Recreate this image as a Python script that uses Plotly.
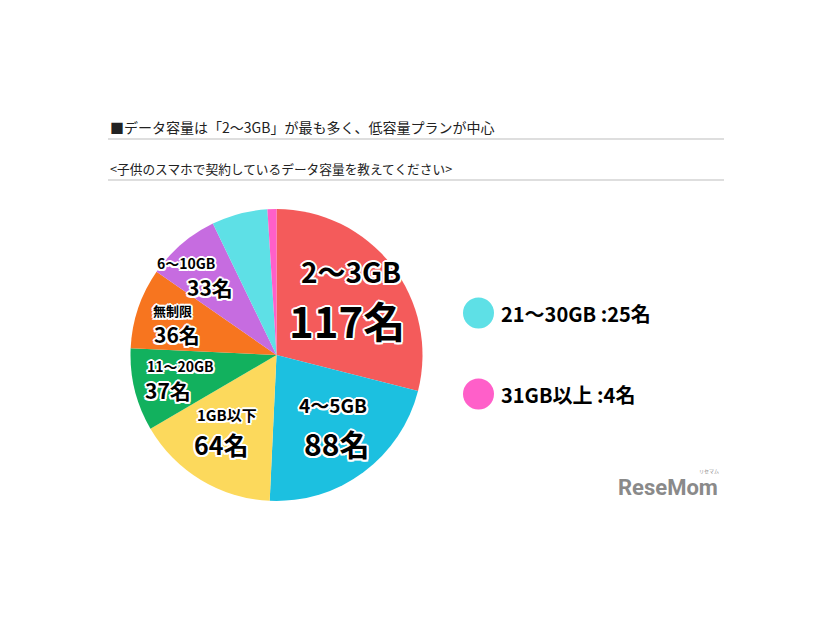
import plotly.graph_objects as go

labels = ["2〜3GB", "4〜5GB", "1GB以下", "11〜20GB", "無制限", "6〜10GB", "21〜30GB", "31GB以上"]
values = [117, 88, 64, 37, 36, 33, 25, 4]
colors = ["#F45B5B", "#1CC0E0", "#FCD95C", "#12B15E", "#F7751F", "#C66CE0", "#5EE0E6", "#FF5FC9"]

title_text = "■データ容量は「2〜3GB」が最も多く、低容量プランが中心"
subtitle_text = "<子供のスマホで契約しているデータ容量を教えてください>"

OFF = 8  # default page body margin
W, H = 826 - 2 * OFF, 620 - 2 * OFF
FONT = "Noto Sans CJK JP"

def px(x):
    return (x - OFF) / W

def py(y):
    return 1 - (y - OFF) / H

fig = go.Figure()
fig.add_trace(go.Pie(
    labels=labels, values=values, sort=False, direction="clockwise", rotation=0,
    marker=dict(colors=colors, line=dict(width=0)),
    textinfo="none", hoverinfo="none", showlegend=False,
    domain=dict(x=[px(130), px(423)], y=[py(501), py(209)]),
))

shadow = "2px 0 0 #fff, -2px 0 0 #fff, 0 2px 0 #fff, 0 -2px 0 #fff, 1.5px 1.5px 0 #fff, -1.5px -1.5px 0 #fff, 1.5px -1.5px 0 #fff, -1.5px 1.5px 0 #fff"

# (text, x, y, size) for pie labels
pie_labels = [
    (labels[0], 351, 271, 28), (f"{values[0]}名", 347, 319, 42),
    (labels[1], 333, 404, 19), (f"{values[1]}名", 336, 443, 30),
    (labels[2], 227, 414, 15), (f"{values[2]}名", 221, 444, 25),
    (labels[3], 180, 366, 14), (f"{values[3]}名", 168, 390, 21),
    (labels[4], 172, 310, 13), (f"{values[4]}名", 177, 334, 21),
    (labels[5], 186, 263, 14), (f"{values[5]}名", 210, 287, 21),
]
for t, x, y, s in pie_labels:
    fig.add_annotation(x=px(x), y=py(y), xref="paper", yref="paper", text=f"<b>{t}</b>",
                       showarrow=False, xanchor="center", yanchor="middle",
                       font=dict(family=FONT, size=s, color="#000", shadow=shadow))

# legend for small slices
for i, yy in [(6, 313), (7, 394)]:
    fig.add_shape(type="circle", xref="paper", yref="paper",
                  x0=px(463), x1=px(494), y0=py(yy + 15.5), y1=py(yy - 15.5),
                  fillcolor=colors[i], line=dict(width=0))
    fig.add_annotation(x=px(499), y=py(yy), xref="paper", yref="paper",
                       text=f"<b>{labels[i]} :{values[i]}名</b>", showarrow=False,
                       xanchor="left", yanchor="middle",
                       font=dict(family=FONT, size=20, color="#000"))

# titles
fig.add_annotation(x=px(108), y=py(127), xref="paper", yref="paper", text=title_text,
                   showarrow=False, xanchor="left", yanchor="middle",
                   font=dict(family=FONT, size=14, color="#222"))
fig.add_annotation(x=px(108), y=py(168), xref="paper", yref="paper", text=subtitle_text,
                   showarrow=False, xanchor="left", yanchor="middle",
                   font=dict(family=FONT, size=12.7, color="#222"))
for yy in [139, 180]:
    fig.add_shape(type="line", xref="paper", yref="paper", x0=px(108), x1=px(724),
                  y0=py(yy), y1=py(yy), line=dict(color="#BDBDBD", width=1))

# logo
fig.add_annotation(x=px(668), y=py(487), xref="paper", yref="paper", text="<b>ReseMom</b>",
                   showarrow=False, xanchor="center", yanchor="middle",
                   font=dict(family="Roboto", size=22, color="#8A8A8A"))
fig.add_annotation(x=px(709), y=py(471), xref="paper", yref="paper", text="リセマム",
                   showarrow=False, xanchor="center", yanchor="middle",
                   font=dict(family=FONT, size=5, color="#8A8A8A"))

fig.update_layout(width=W, height=H, margin=dict(l=0, r=0, t=0, b=0),
                  paper_bgcolor="#fff", plot_bgcolor="#fff")
fig.write_html("out.html")
